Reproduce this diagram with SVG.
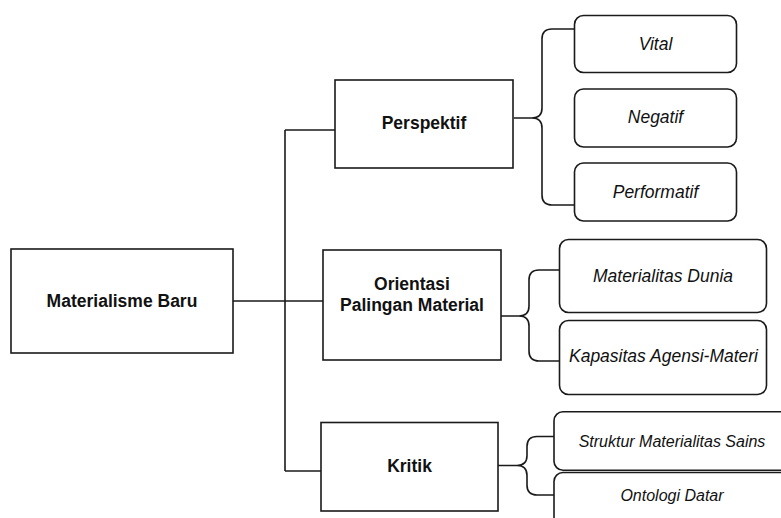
<svg xmlns="http://www.w3.org/2000/svg" width="781" height="518" viewBox="0 0 781 518">
<style>
.box{fill:#fff;stroke:#1a1a1a;stroke-width:1.6}
.conn{fill:none;stroke:#1a1a1a;stroke-width:1.6}
.b{font-family:"Liberation Sans",Arial,sans-serif;font-weight:bold;font-size:17.5px;fill:#111;text-anchor:middle}
.i{font-family:"Liberation Sans",Arial,sans-serif;font-style:italic;font-size:17.5px;fill:#111;text-anchor:middle}
.s{font-size:16px}
</style>
<rect width="781" height="518" fill="#fff"/>
<g id="connectors">
<path class="conn" d="M233,301 H323 M285,130 V471 M285,130 H335 M285,471 H321"/>
<path class="conn" d="M514,118 H532 Q542,118 542,108 V39 Q542,29 552,29 H574 M532,118 Q542,118 542,128 V195 Q542,205 552,205 H574"/>
<path class="conn" d="M501,316 H519 Q529,316 529,306 V280 Q529,270 539,270 H560 M519,316 Q529,316 529,326 V351 Q529,361 539,361 H560"/>
<path class="conn" d="M498,465.5 H517 Q527,465.5 527,455.5 V446.5 Q527,436.5 537,436.5 H554 M517,465.5 Q527,465.5 527,475.5 V485 Q527,495 537,495 H554"/>
</g>
<g id="materialisme-baru"><rect class="box" x="11" y="249" width="222" height="104"/><text class="b" x="122" y="307">Materialisme Baru</text></g>
<g id="perspektif"><rect class="box" x="335" y="80" width="178" height="88"/><text class="b" x="424" y="128.5">Perspektif</text></g>
<g id="orientasi"><rect class="box" x="323" y="250" width="178" height="110"/><text class="b" x="412" y="290">Orientasi</text><text class="b" x="412" y="311">Palingan Material</text></g>
<g id="kritik"><rect class="box" x="321" y="422.5" width="177" height="88.5"/><text class="b" x="409.5" y="471.5">Kritik</text></g>
<g id="vital"><rect class="box" x="574.5" y="15.5" width="162" height="57" rx="9"/><text class="i" x="655.5" y="50">Vital</text></g>
<g id="negatif"><rect class="box" x="574.5" y="89" width="162" height="58" rx="9"/><text class="i" x="655.5" y="123.3">Negatif</text></g>
<g id="performatif"><rect class="box" x="574.5" y="163" width="162" height="58" rx="9"/><text class="i" x="655.5" y="197.7">Performatif</text></g>
<g id="materialitas-dunia"><rect class="box" x="559.5" y="239.5" width="207" height="73" rx="9"/><text class="i" x="663" y="281.7">Materialitas Dunia</text></g>
<g id="kapasitas"><rect class="box" x="559.5" y="320.5" width="207" height="74" rx="9"/><text class="i" x="663.5" y="362.3">Kapasitas Agensi-Materi</text></g>
<g id="struktur"><rect class="box" x="554" y="411.7" width="240" height="58.5" rx="9"/><text class="i s" x="672" y="446.7">Struktur Materialitas Sains</text></g>
<g id="ontologi"><rect class="box" x="554" y="472.5" width="240" height="60" rx="9"/><text class="i s" x="672" y="500.7">Ontologi Datar</text></g>
</svg>
